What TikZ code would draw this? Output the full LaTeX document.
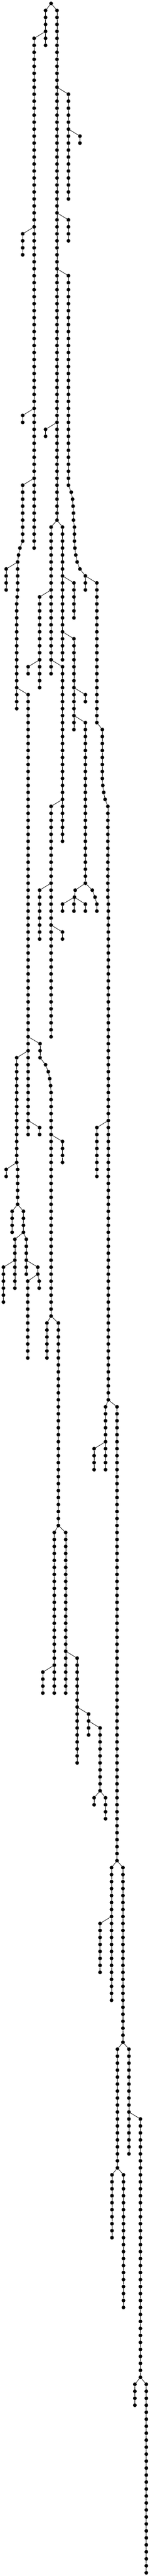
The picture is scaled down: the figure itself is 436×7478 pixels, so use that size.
\documentclass[tikz,border=0pt]{standalone}
\tikzset{
  treedot/.style={circle,fill=black,draw=none,inner sep=0pt,minimum size=10.9pt},
  treeedge/.style={draw=black,line width=1.15pt}
}
\newcommand{\dotat}[2]{\node[treedot] (n#1r#2) at ({#1/3},{10+20.268*#2}) {};}
% \br{parent x}{parent rank}{x}{last rank}: a chain of dots hanging from a parent
\newcommand{\br}[4]{%
  \pgfmathtruncatemacro\rstart{#2+1}%
  \xdef\prevname{n#1r#2}%
  \foreach \rw in {\rstart,...,#4}{%
    \dotat{#3}{\rw}%
    \draw[treeedge] (\prevname) -- (n#3r\rw);%
    \xdef\prevname{n#3r\rw}%
  }%
}
\begin{document}
\begin{tikzpicture}[x=1pt,y=-1pt]
\fill[white] (0,0) rectangle (436,7478);
\useasboundingbox (0,0) rectangle (436,7478);
\dotat{446}{0}
\br{446}{0}{398}{6}
\br{446}{0}{498}{74}
\br{398}{4}{298}{78}
\br{498}{12}{598}{28}
\br{598}{18}{698}{20}
\br{498}{30}{598}{34}
\br{298}{32}{198}{36}
\br{498}{38}{598}{69}
\br{298}{58}{198}{60}
\br{498}{60}{398}{62}
\br{298}{68}{198}{77}
\br{198}{77}{174}{78}
\br{174}{78}{162}{79}
\br{162}{79}{154}{84}
\br{154}{80}{54}{84}
\br{154}{84}{150}{85}
\br{150}{85}{146}{101}
\br{146}{98}{246}{162}
\br{246}{148}{350}{151}
\br{350}{151}{398}{152}
\br{398}{152}{422}{153}
\br{422}{153}{434}{154}
\br{434}{154}{442}{155}
\br{442}{155}{446}{188}
\br{446}{162}{546}{166}
\br{246}{150}{146}{166}
\br{146}{166}{54}{168}
\br{146}{166}{154}{172}
\br{154}{172}{106}{176}
\br{154}{172}{205}{176}
\br{205}{176}{130}{184}
\br{205}{176}{230}{182}
\br{130}{180}{30}{186}
\br{230}{180}{330}{182}
\br{330}{182}{242}{194}
\br{330}{182}{342}{184}
\br{246}{160}{346}{162}
\br{446}{188}{410}{194}
\br{446}{188}{510}{218}
\br{510}{218}{474}{242}
\br{510}{218}{574}{242}
\br{474}{238}{374}{242}
\br{574}{236}{674}{252}
\br{674}{244}{774}{248}
\br{774}{246}{874}{256}
\br{874}{256}{822}{258}
\br{874}{256}{922}{260}
% right-hand spine
\br{598}{69}{622}{70}
\br{622}{70}{634}{71}
\br{634}{71}{638}{72}
\br{638}{72}{642}{74}
\br{642}{74}{650}{77}
\br{650}{77}{654}{78}
\br{654}{78}{662}{79}
\br{662}{79}{674}{80}
\br{674}{80}{698}{81}
\br{698}{81}{746}{84}
\br{746}{82}{846}{103}
\br{846}{103}{894}{111}
\br{894}{111}{898}{112}
\br{898}{112}{906}{113}
\br{906}{113}{918}{114}
\br{918}{114}{942}{128}
\br{942}{128}{946}{200}
\br{946}{160}{846}{168}
\br{946}{200}{922}{210}
\br{922}{206}{822}{210}
\br{946}{200}{1022}{266}
\br{1022}{266}{974}{286}
\br{974}{274}{874}{282}
\br{1022}{266}{1074}{292}
\br{1074}{292}{1026}{310}
\br{1074}{292}{1126}{308}
\br{1126}{302}{1226}{340}
\br{1026}{310}{978}{320}
\br{1026}{310}{1078}{330}
\br{1226}{340}{1178}{344}
\br{1226}{340}{1278}{368}
% middle
\br{498}{74}{446}{96}
\br{498}{74}{546}{94}
\br{446}{84}{346}{98}
\br{546}{82}{646}{88}
\br{546}{90}{646}{104}
\br{346}{94}{246}{96}
\br{446}{94}{546}{120}
\br{546}{114}{446}{148}
\br{646}{98}{746}{100}
\br{646}{102}{746}{126}
\br{746}{126}{657}{127}
\br{657}{127}{650}{128}
\br{650}{128}{546}{130}
\br{650}{128}{646}{130}
\br{650}{128}{746}{130}
\br{746}{126}{806}{127}
\br{806}{127}{830}{128}
\br{830}{128}{846}{130}
\br{446}{126}{346}{134}
\br{446}{132}{546}{134}
\end{tikzpicture}
\end{document}
